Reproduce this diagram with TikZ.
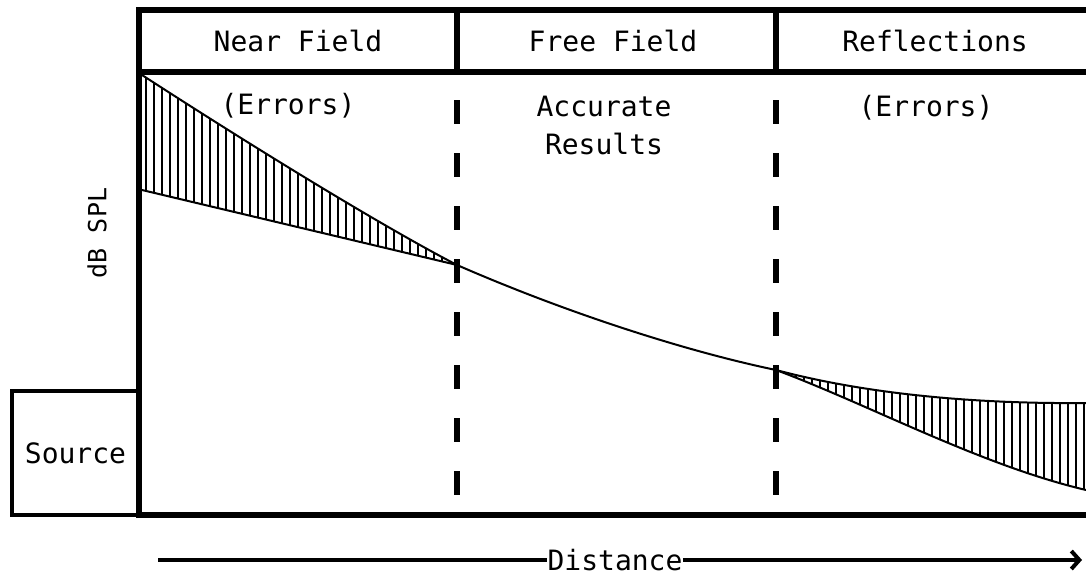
\documentclass[tikz,border=0pt]{standalone}
\usepackage{fontspec}
\setmonofont{DejaVu Sans Mono}
\usetikzlibrary{arrows.meta,positioning}

\begin{document}
\begin{tikzpicture}[x=0.5pt, y=-0.5pt,
  every node/.style={font=\ttfamily\fontsize{14}{19}\selectfont, inner sep=0pt},
  frame/.style={line width=3pt},
  zoneline/.style={line width=3pt, dash pattern=on 12pt off 14.5pt},
  spl/.style={line width=1pt},
  hatch/.style={line width=0.75pt}]
\useasboundingbox (0,0) rectangle (1086,578);

% outer frame and header
\draw[frame] (1086,10) -- (139,10) -- (139,515) -- (1086,515);
\draw[frame] (139,72) -- (1086,72);
\draw[frame] (457,10) -- (457,72);
\draw[frame] (776,10) -- (776,72);
\node (near) at (298,41) {Near Field};
\node (free) at (613,41) {Free Field};
\node (refl) at (935,41) {Reflections};

% zone boundaries
\draw[zoneline] (457,100) -- (457,495);
\draw[zoneline] (776,100) -- (776,495);

\node (err1) at (288,106) {(Errors)};
\node (acc) [align=center] at (604,125) {Accurate\\Results};
\node (err2) at (926,108) {(Errors)};
\node (dbspl) [rotate=90, font=\ttfamily\fontsize{12.5}{15}\selectfont] at (97,233) {dB SPL};
\node (src) [draw, line width=2pt, minimum width=63.5pt, minimum height=62pt] at (75.5,453) {Source};

% level curves
\coordinate (nfTop) at (142,75);
\coordinate (nfLow) at (142,190);
\coordinate (ffA) at (457,265);
\coordinate (ffB) at (776,370);
\coordinate (rfTop) at (1086,403);
\coordinate (rfLow) at (1086,490);

\begin{scope}
  \clip (nfTop) .. controls (250,145) and (380,225) .. (ffA) -- (nfLow) -- cycle;
  \foreach \x in {146,154,...,456} \draw[hatch] (\x,60) -- (\x,280);
\end{scope}
\begin{scope}
  \clip (ffB) .. controls (870,395) and (980,404) .. (rfTop) -- (rfLow) .. controls (980,465) and (870,405) .. (ffB);
  \foreach \x in {780,788,...,1086} \draw[hatch] (\x,360) -- (\x,500);
\end{scope}

\draw[spl] (nfTop) .. controls (250,145) and (380,225) .. (ffA);
\draw[spl] (nfLow) -- (ffA);
\draw[spl] (ffA) .. controls (560,310) and (680,350) .. (ffB);
\draw[spl] (ffB) .. controls (870,395) and (980,404) .. (rfTop);
\draw[spl] (ffB) .. controls (870,405) and (980,465) .. (rfLow);

% distance axis
\node (dist) at (615,560) {Distance};
\coordinate (dStart) at (158,560);
\coordinate (dEnd) at (1082,560);
\draw[line width=2pt] (dStart) -- (dist.west);
\draw[line width=2pt, -{Straight Barb[length=4pt,width=9pt]}] (dist.east) -- (dEnd);
\end{tikzpicture}
\end{document}
